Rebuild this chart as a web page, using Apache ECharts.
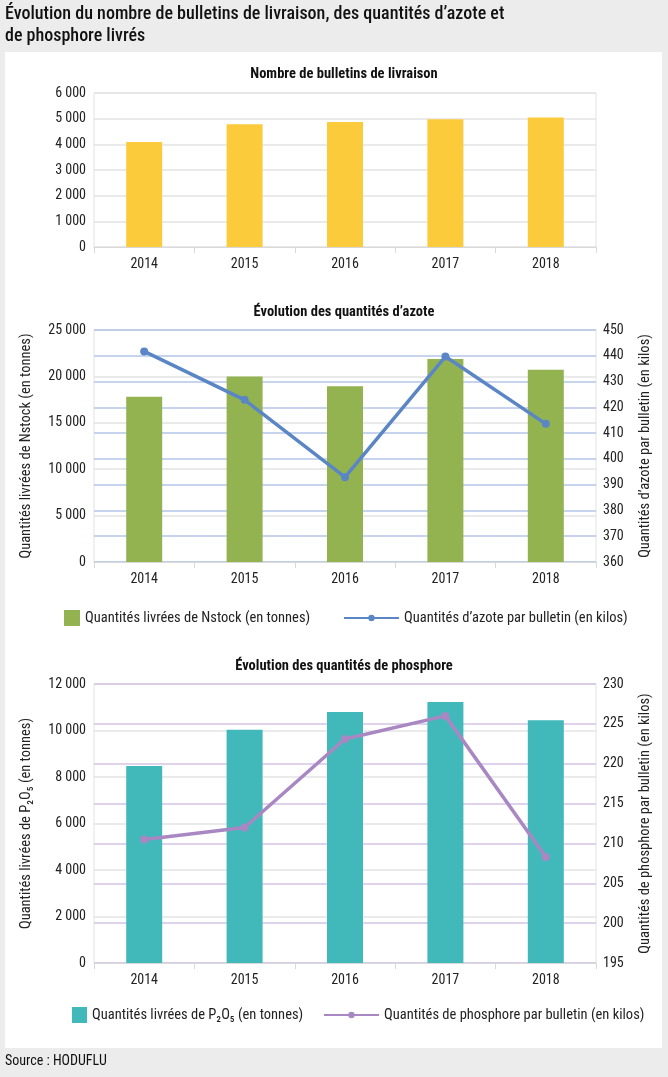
<!DOCTYPE html>
<html><head><meta charset="utf-8">
<script src="https://cdn.jsdelivr.net/npm/echarts@6/dist/echarts.min.js"></script>
<style>html,body{margin:0;padding:0;background:#ececec;}#c{width:668px;height:1077px;}</style>
</head><body><div id="c"></div>
<script>
const years = ['2014', '2015', '2016', '2017', '2018'];
const bulletins = [4090, 4780, 4870, 4975, 5050];
const azoteTonnes = [17800, 20000, 18930, 21880, 20730];
const azoteKilos = [441.7, 422.9, 392.9, 439.7, 413.6];
const phosTonnes = [8470, 10030, 10800, 11230, 10440];
const phosKilos = [210.5, 212.0, 223.1, 226.0, 208.3];

const FONT = '"Liberation Sans Narrow", "Roboto Condensed", Roboto, sans-serif';
const TXT = '#222';
const fmt = v => String(v).replace(/\B(?=(\d{3})+(?!\d))/g, ' ');

const NAME_N_BAR = 'Quantités livrées de Nstock (en tonnes)';
const NAME_N_LINE = 'Quantités d\u2019azote par bulletin (en kilos)';
const NAME_P_BAR = 'Quantités livrées de P\u2082O\u2085 (en tonnes)';
const NAME_P_LINE = 'Quantités de phosphore par bulletin (en kilos)';

const grids = [
  {left: 94, width: 502, top: 93, height: 154},
  {left: 94, width: 502, top: 330, height: 232},
  {left: 94, width: 502, top: 684, height: 279}
].map(g => Object.assign(g, {show: true, borderColor: '#e2e2e2', borderWidth: 1, backgroundColor: 'transparent'}));

const xAx = i => ({
  type: 'category', gridIndex: i, data: years,
  axisLine: {lineStyle: {color: '#d9d9d9'}},
  axisTick: {show: true, length: 6, lineStyle: {color: '#d9d9d9'}},
  axisLabel: {color: TXT, fontSize: 14, fontFamily: FONT, margin: 10}
});
const yAx = (i, min, max, interval, pos, splitColor, name, gap) => ({
  type: 'value', gridIndex: i, min, max, interval, position: pos,
  axisLine: {show: false}, axisTick: {show: false},
  axisLabel: {color: TXT, fontSize: 14, fontFamily: FONT, margin: pos === 'right' ? 7 : 8, formatter: v => fmt(v)},
  splitLine: {lineStyle: {color: splitColor, width: 1.5}},
  name: name || '', nameLocation: 'middle', nameRotate: 90, nameGap: gap || 0,
  nameTextStyle: {color: TXT, fontSize: 14.5, fontFamily: FONT}
});

const chart = echarts.init(document.getElementById('c'), null, {renderer: 'canvas'});
chart.setOption({
  backgroundColor: '#ececec',
  animation: false,
  textStyle: {fontFamily: FONT},
  graphic: [
    {type: 'rect', shape: {x: 5, y: 52, width: 657, height: 996}, style: {fill: '#ffffff'}, z: -10},
    {type: 'text', left: 5, top: 3, style: {text: 'Évolution du nombre de bulletins de livraison, des quantités d\u2019azote et\nde phosphore livrés', font: '500 18px ' + FONT, fill: '#111', lineHeight: 22}},
    {type: 'text', x: 344, y: 74, style: {text: 'Nombre de bulletins de livraison', font: 'bold 14.5px ' + FONT, fill: '#111', align: 'center', verticalAlign: 'middle'}},
    {type: 'text', x: 344, y: 312, style: {text: 'Évolution des quantités d\u2019azote', font: 'bold 14.5px ' + FONT, fill: '#111', align: 'center', verticalAlign: 'middle'}},
    {type: 'text', x: 344, y: 666, style: {text: 'Évolution des quantités de phosphore', font: 'bold 14.5px ' + FONT, fill: '#111', align: 'center', verticalAlign: 'middle'}},
    {type: 'text', left: 5, top: 1054, style: {text: 'Source : HODUFLU', font: '14px ' + FONT, fill: '#111'}}
  ],
  grid: grids,
  xAxis: [xAx(0), xAx(1), xAx(2)],
  yAxis: [
    yAx(0, 0, 6000, 1000, 'left', '#e3e3e3'),
    yAx(1, 0, 25000, 5000, 'left', '#e3e3e3', NAME_N_BAR, 60),
    yAx(1, 360, 450, 10, 'right', '#b4c6e7', NAME_N_LINE, 42),
    yAx(2, 0, 12000, 2000, 'left', '#e3e3e3', NAME_P_BAR, 60),
    yAx(2, 195, 230, 5, 'right', '#d5c4e4', NAME_P_LINE, 42)
  ],
  legend: [
    {data: [NAME_N_BAR], left: 59, top: 605, itemWidth: 16, itemHeight: 16, icon: 'rect', textStyle: {color: TXT, fontSize: 14.5, fontFamily: FONT}},
    {data: [NAME_N_LINE], left: 338, top: 605, itemWidth: 55, itemHeight: 8, textStyle: {color: TXT, fontSize: 14.5, fontFamily: FONT, lineHeight: 16}},
    {data: [NAME_P_BAR], left: 67, top: 1002, itemWidth: 15, itemHeight: 16, icon: 'rect', textStyle: {color: TXT, fontSize: 14.5, fontFamily: FONT}},
    {data: [NAME_P_LINE], left: 318, top: 1002, itemWidth: 55, itemHeight: 8, textStyle: {color: TXT, fontSize: 14.5, fontFamily: FONT, lineHeight: 16}}
  ],
  series: [
    {type: 'bar', name: 'Bulletins', xAxisIndex: 0, yAxisIndex: 0, data: bulletins, barWidth: 36, itemStyle: {color: '#fccb3b'}},
    {type: 'bar', name: NAME_N_BAR, xAxisIndex: 1, yAxisIndex: 1, data: azoteTonnes, barWidth: 36, itemStyle: {color: '#93b350'}},
    {type: 'line', name: NAME_N_LINE, xAxisIndex: 1, yAxisIndex: 2, data: azoteKilos, symbol: 'circle', symbolSize: 8,
      lineStyle: {color: '#5b86c6', width: 3.5}, itemStyle: {color: '#5b86c6'}},
    {type: 'bar', name: NAME_P_BAR, xAxisIndex: 2, yAxisIndex: 3, data: phosTonnes, barWidth: 36, itemStyle: {color: '#41b9ba'}},
    {type: 'line', name: NAME_P_LINE, xAxisIndex: 2, yAxisIndex: 4, data: phosKilos, symbol: 'circle', symbolSize: 8,
      lineStyle: {color: '#a887c3', width: 3.5}, itemStyle: {color: '#a887c3'}}
  ]
});
</script></body></html>
